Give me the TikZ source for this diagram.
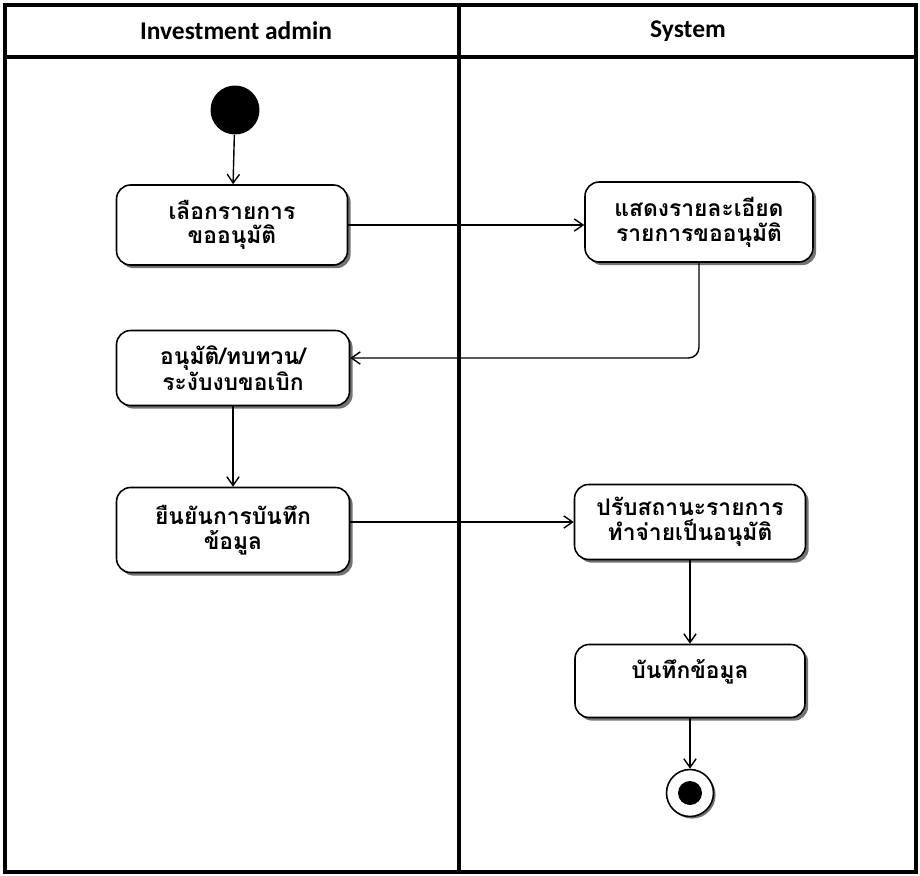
\documentclass[tikz,border=0pt]{standalone}
\usepackage{fontspec}
\setmainfont{Carlito}
\newfontfamily\thaifont[Script=Thai]{Loma}
\usetikzlibrary{arrows.meta,shadows}
\begin{document}
\begin{tikzpicture}[x=0.02cm,y=-0.02cm,
  frame/.style={line width=2pt},
  act/.style={draw, line width=0.9pt, rounded corners=8pt, fill=white,
    drop shadow={shadow xshift=1.8pt, shadow yshift=-1.8pt, fill=black!55, opacity=1},
    inner sep=0pt, align=center, text width=4.4cm,
    font=\thaifont\bfseries\fontsize{13}{14}\selectfont},
  flow/.style={line width=0.8pt, -{Straight Barb[length=5pt,width=7pt,line width=0.8pt]}},
  head/.style={font=\bfseries\fontsize{14.5}{16}\selectfont}
]
\useasboundingbox (0,0) rectangle (920,876);
% swimlane frame
\draw[frame] (5,5) rectangle (916,872);
\draw[frame] (5,57) -- (916,57);
\draw[frame] (459,5) -- (459,872);
\node[head] (h1) at (236,31) {Investment admin};
\node[head] (h2) at (688,31) {System};
% start
\node[circle, fill=black, minimum size=0.98cm, inner sep=0pt] (start) at (235,110) {};
% activities
\node[act, minimum width=4.62cm, minimum height=1.6cm] (b1) at (232,225) {เลือกรายการ\\ขออนุมัติ};
\node[act, minimum width=4.56cm, minimum height=1.6cm] (b2) at (699,222) {แสดงรายละเอียด\\รายการขออนุมัติ};
\node[act, minimum width=4.66cm, minimum height=1.5cm] (b3) at (233,368) {อนุมัติ/ทบทวน/\\ระงับงบขอเบิก};
\node[act, minimum width=4.66cm, minimum height=1.7cm] (b4) at (233,530) {ยืนยันการบันทึก\\ข้อมูล};
\node[act, minimum width=4.62cm, minimum height=1.5cm] (b5) at (690,522) {ปรับสถานะรายการ\\ทำจ่ายเป็นอนุมัติ};
\node[act, minimum width=4.6cm, minimum height=1.46cm] (b6) at (690,681) {บันทึกข้อมูล\\\mbox{}};
% end
\node[circle, draw, line width=0.9pt, fill=white, minimum size=0.94cm, inner sep=0pt,
  drop shadow={shadow xshift=1.2pt, shadow yshift=-1.2pt, fill=black!55, opacity=1}] (endc) at (690,793) {};
\node[circle, fill=black, minimum size=0.48cm, inner sep=0pt] (endd) at (endc) {};
% connectors
\draw[flow] (start) -- (b1);
\draw[flow] (b1.east) -- (b1.east -| b2.west);
\draw[flow, rounded corners=6pt] (b2.south) |- ([yshift=0.2cm]b3.east);
\draw[flow] (b3) -- (b4);
\draw[flow] (b4.east |- b5.west) -- (b5.west);
\draw[flow] (b5) -- (b6);
\draw[flow] (b6) -- (endc);
\end{tikzpicture}
\end{document}
